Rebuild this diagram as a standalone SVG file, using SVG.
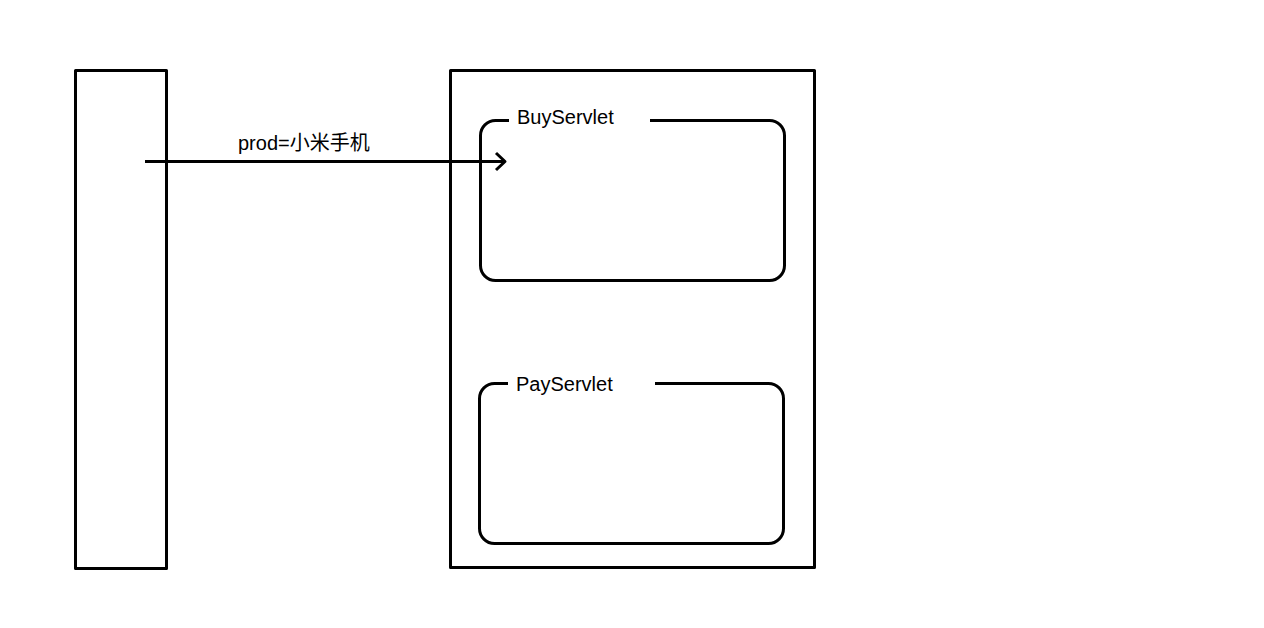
<svg xmlns="http://www.w3.org/2000/svg" width="1264" height="628" viewBox="0 0 1264 628">
<style>
.s{fill:none;stroke:#000;stroke-width:3;stroke-linejoin:round;stroke-linecap:butt}
.t{font-family:"Liberation Sans","Noto Sans CJK SC",sans-serif;font-size:20px;fill:#000}
</style>
<rect width="1264" height="628" fill="#fff"/>
<g id="client"><rect class="s" x="75.5" y="70.5" width="91" height="498"/></g>
<g id="server"><rect class="s" x="450.5" y="70.5" width="364" height="497"/></g>
<g id="buyservlet">
<path class="s" d="M509,120.5 H495.5 A15,15 0 0 0 480.5,135.5 V265.5 A15,15 0 0 0 495.5,280.5 H769.5 A15,15 0 0 0 784.5,265.5 V135.5 A15,15 0 0 0 769.5,120.5 H650"/>
<text class="t" x="517" y="124">BuyServlet</text>
</g>
<g id="payservlet">
<path class="s" d="M508,383.5 H494.5 A15,15 0 0 0 479.5,398.5 V528.5 A15,15 0 0 0 494.5,543.5 H768.5 A15,15 0 0 0 783.5,528.5 V398.5 A15,15 0 0 0 768.5,383.5 H655"/>
<text class="t" x="516" y="391">PayServlet</text>
</g>
<g id="connectors">
<path class="s" d="M145,161.5 H505"/>
<path class="s" d="M496,153 L505,161.5 L496,170"/>
<text class="t" x="238" y="150">prod=小米手机</text>
</g>
</svg>
